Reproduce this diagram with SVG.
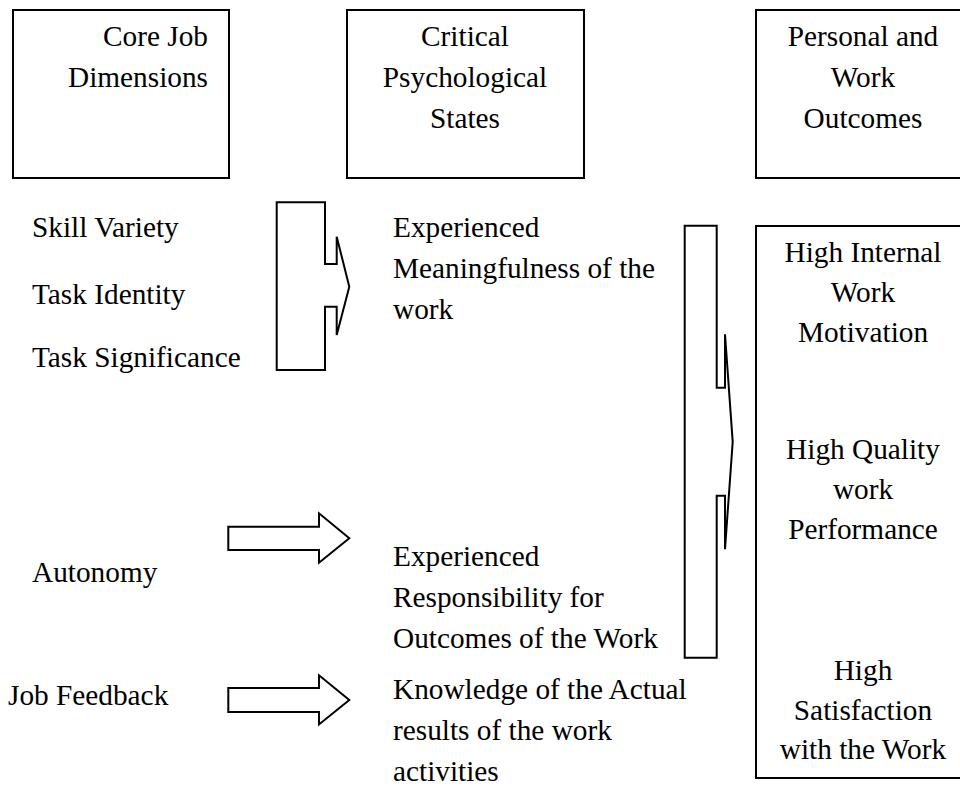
<svg xmlns="http://www.w3.org/2000/svg" width="960" height="800" viewBox="0 0 960 800">
  <style>
    .box { fill: #ffffff; stroke: #000000; stroke-width: 2; }
    .arrow { fill: #ffffff; stroke: #000000; stroke-width: 2; stroke-linejoin: miter; }
    text { font-family: "Liberation Serif", "Times New Roman", serif; font-size: 29.3px; fill: #000000; }
    .mid { text-anchor: middle; }
    .end { text-anchor: end; }
  </style>
  <rect width="960" height="800" fill="#ffffff"/>

  <!-- column headers -->
  <g id="hdr-core">
    <rect class="box" x="13" y="10" width="216" height="168"/>
    <text class="end" x="208" y="46">Core Job</text>
    <text class="end" x="208" y="87">Dimensions</text>
  </g>
  <g id="hdr-states">
    <rect class="box" x="347" y="10" width="237" height="168"/>
    <text class="mid" x="465" y="46">Critical</text>
    <text class="mid" x="465" y="87">Psychological</text>
    <text class="mid" x="465" y="128">States</text>
  </g>
  <g id="hdr-outcomes">
    <rect class="box" x="756" y="10" width="210" height="168"/>
    <text class="mid" x="863" y="46">Personal and</text>
    <text class="mid" x="863" y="87">Work</text>
    <text class="mid" x="863" y="128">Outcomes</text>
  </g>

  <!-- core job dimensions -->
  <g id="dim-meaning">
    <text x="32" y="237">Skill Variety</text>
    <text x="32" y="304">Task Identity</text>
    <text x="32" y="367">Task Significance</text>
  </g>
  <g id="dim-autonomy">
    <text x="32" y="582">Autonomy</text>
  </g>
  <g id="dim-feedback">
    <text x="8" y="705">Job Feedback</text>
  </g>

  <!-- critical psychological states -->
  <g id="state-meaning">
    <text x="393" y="237">Experienced</text>
    <text x="393" y="278">Meaningfulness of the</text>
    <text x="393" y="319">work</text>
  </g>
  <g id="state-responsibility">
    <text x="393" y="566">Experienced</text>
    <text x="393" y="607">Responsibility for</text>
    <text x="393" y="648">Outcomes of the Work</text>
  </g>
  <g id="state-knowledge">
    <text x="393" y="699">Knowledge of the Actual</text>
    <text x="393" y="740">results of the work</text>
    <text x="393" y="781">activities</text>
  </g>

  <!-- outcomes -->
  <g id="outcomes">
    <rect class="box" x="756" y="226" width="210" height="552"/>
    <text class="mid" x="863" y="262">High Internal</text>
    <text class="mid" x="863" y="302">Work</text>
    <text class="mid" x="863" y="342">Motivation</text>
    <text class="mid" x="863" y="459">High Quality</text>
    <text class="mid" x="863" y="499">work</text>
    <text class="mid" x="863" y="539">Performance</text>
    <text class="mid" x="863" y="680">High</text>
    <text class="mid" x="863" y="720">Satisfaction</text>
    <text class="mid" x="863" y="759">with the Work</text>
  </g>

  <!-- block arrows -->
  <g id="connectors">
    <path class="arrow" d="M276.7,202.3 H325 V264 H336.7 V236.7 L349.3,286.7 L336.7,335 V306.7 H325 V370 H276.7 Z"/>
    <path class="arrow" d="M228.3,526.7 H319 V513.3 L349.3,538.3 L319,562.7 V550 H228.3 Z"/>
    <path class="arrow" d="M228.3,688 H319 V675.3 L349.3,700 L319,724.5 V712 H228.3 Z"/>
    <path class="arrow" d="M684.7,225.7 H716.7 V387.7 H725 V334.3 L732.7,441.7 L725,549.3 V495.7 H716.7 V657.7 H684.7 Z"/>
  </g>
</svg>
